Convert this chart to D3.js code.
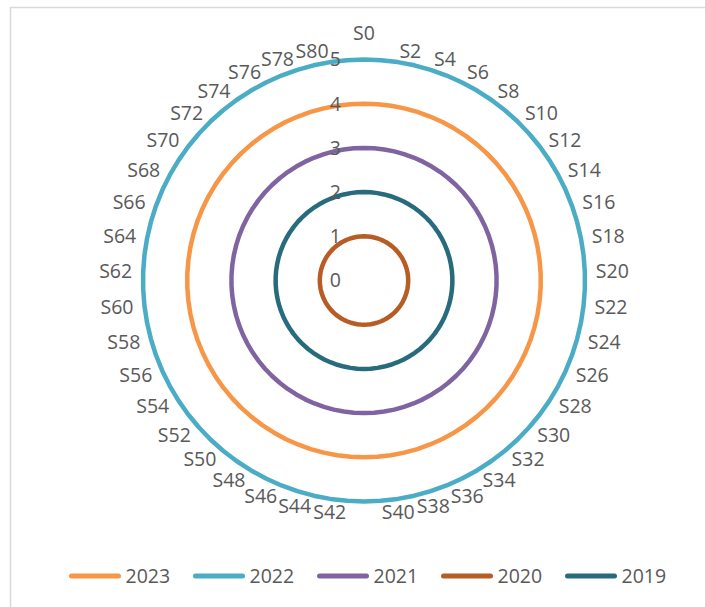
<!DOCTYPE html>
<html>
<head>
<meta charset="utf-8">
<script src="https://cdn.jsdelivr.net/npm/d3@7"></script>
<style>
  html, body { margin: 0; padding: 0; background: #fff; }
  svg { display: block; }
  text { font-family: "Open Sans", sans-serif; fill: #595959; }
</style>
</head>
<body>
<svg id="chart" width="705" height="607"></svg>
<script>
// Radar categories (S0 … S81)
const categories = [
  "S0","S1","S2","S3","S4","S5","S6","S7","S8","S9",
  "S10","S11","S12","S13","S14","S15","S16","S17","S18","S19",
  "S20","S21","S22","S23","S24","S25","S26","S27","S28","S29",
  "S30","S31","S32","S33","S34","S35","S36","S37","S38","S39",
  "S40","S41","S42","S43","S44","S45","S46","S47","S48","S49",
  "S50","S51","S52","S53","S54","S55","S56","S57","S58","S59",
  "S60","S61","S62","S63","S64","S65","S66","S67","S68","S69",
  "S70","S71","S72","S73","S74","S75","S76","S77","S78","S79",
  "S80","S81"
];

const tickValues = [0, 1, 2, 3, 4, 5];

const seriesNames = ["2023", "2022", "2021", "2020", "2019"];

const v2023 = [
  4,4,4,4,4,4,4,4,4,4, 4,4,4,4,4,4,4,4,4,4,
  4,4,4,4,4,4,4,4,4,4, 4,4,4,4,4,4,4,4,4,4,
  4,4,4,4,4,4,4,4,4,4, 4,4,4,4,4,4,4,4,4,4,
  4,4,4,4,4,4,4,4,4,4, 4,4,4,4,4,4,4,4,4,4,
  4,4
];
const v2022 = [
  5,5,5,5,5,5,5,5,5,5, 5,5,5,5,5,5,5,5,5,5,
  5,5,5,5,5,5,5,5,5,5, 5,5,5,5,5,5,5,5,5,5,
  5,5,5,5,5,5,5,5,5,5, 5,5,5,5,5,5,5,5,5,5,
  5,5,5,5,5,5,5,5,5,5, 5,5,5,5,5,5,5,5,5,5,
  5,5
];
const v2021 = [
  3,3,3,3,3,3,3,3,3,3, 3,3,3,3,3,3,3,3,3,3,
  3,3,3,3,3,3,3,3,3,3, 3,3,3,3,3,3,3,3,3,3,
  3,3,3,3,3,3,3,3,3,3, 3,3,3,3,3,3,3,3,3,3,
  3,3,3,3,3,3,3,3,3,3, 3,3,3,3,3,3,3,3,3,3,
  3,3
];
const v2020 = [
  1,1,1,1,1,1,1,1,1,1, 1,1,1,1,1,1,1,1,1,1,
  1,1,1,1,1,1,1,1,1,1, 1,1,1,1,1,1,1,1,1,1,
  1,1,1,1,1,1,1,1,1,1, 1,1,1,1,1,1,1,1,1,1,
  1,1,1,1,1,1,1,1,1,1, 1,1,1,1,1,1,1,1,1,1,
  1,1
];
const v2019 = [
  2,2,2,2,2,2,2,2,2,2, 2,2,2,2,2,2,2,2,2,2,
  2,2,2,2,2,2,2,2,2,2, 2,2,2,2,2,2,2,2,2,2,
  2,2,2,2,2,2,2,2,2,2, 2,2,2,2,2,2,2,2,2,2,
  2,2,2,2,2,2,2,2,2,2, 2,2,2,2,2,2,2,2,2,2,
  2,2
];

const seriesValues = [v2023, v2022, v2021, v2020, v2019];
const seriesColors = ["#F79646", "#4BACC6", "#8064A2", "#B65C24", "#276B7D"];

const svg = d3.select("#chart");

// chart-area frame
svg.append("rect")
  .attr("x", 10.5).attr("y", 7.5)
  .attr("width", 720).attr("height", 620)
  .attr("fill", "#fff")
  .attr("stroke", "#d9d9d9")
  .attr("stroke-width", 1.5);

const cx = 364, cy = 280.5;

const r = d3.scaleLinear().domain([0, 5]).range([0, 221]);
const angle = d3.scaleBand().domain(categories).range([0, 2 * Math.PI]).paddingInner(0).paddingOuter(0);

const plot = svg.append("g").attr("transform", `translate(${cx},${cy})`);

const line = d3.lineRadial()
  .angle((d, i) => angle(categories[i]))
  .radius(d => r(d))
  .curve(d3.curveLinearClosed);

plot.selectAll("path.series")
  .data(seriesValues)
  .join("path")
  .attr("class", "series")
  .attr("d", d => line(d))
  .attr("fill", "none")
  .attr("stroke", (d, i) => seriesColors[i])
  .attr("stroke-width", 4.5)
  .attr("stroke-linejoin", "round");

// value axis labels along the vertical spoke
plot.selectAll("text.tick")
  .data(tickValues)
  .join("text")
  .attr("class", "tick")
  .attr("x", -23)
  .attr("y", d => -r(d))
  .attr("dy", "0.35em")
  .attr("text-anchor", "end")
  .attr("font-size", 19.5)
  .text(d => d);

// category labels (every other one)
const labelR = 232;
plot.selectAll("text.cat")
  .data(categories.filter((c, i) => i % 2 === 0))
  .join("text")
  .attr("class", "cat")
  .attr("font-size", 19.5)
  .attr("dy", "0.35em")
  .each(function (c) {
    const a = angle(c);
    const s = Math.sin(a), co = Math.cos(a);
    const el = d3.select(this);
    if (Math.abs(s) < 0.01) {
      el.attr("x", 0).attr("y", -(labelR + 15) * co).attr("text-anchor", "middle");
    } else {
      el.attr("x", labelR * s).attr("y", -labelR * co)
        .attr("text-anchor", s > 0 ? "start" : "end");
    }
  })
  .text(d => d);

// legend
const legendX0 = 69, legendStep = 124, legendY = 576;
const legend = svg.append("g");
const items = legend.selectAll("g")
  .data(seriesNames)
  .join("g")
  .attr("transform", (d, i) => `translate(${legendX0 + i * legendStep},${legendY})`);
items.append("line")
  .attr("x1", 2.5).attr("x2", 49.5)
  .attr("y1", 0).attr("y2", 0)
  .attr("stroke", (d, i) => seriesColors[i])
  .attr("stroke-width", 5)
  .attr("stroke-linecap", "round");
items.append("text")
  .attr("x", 56.5)
  .attr("y", 0)
  .attr("dy", "0.35em")
  .attr("font-size", 19.5)
  .text(d => d);
</script>
</body>
</html>
